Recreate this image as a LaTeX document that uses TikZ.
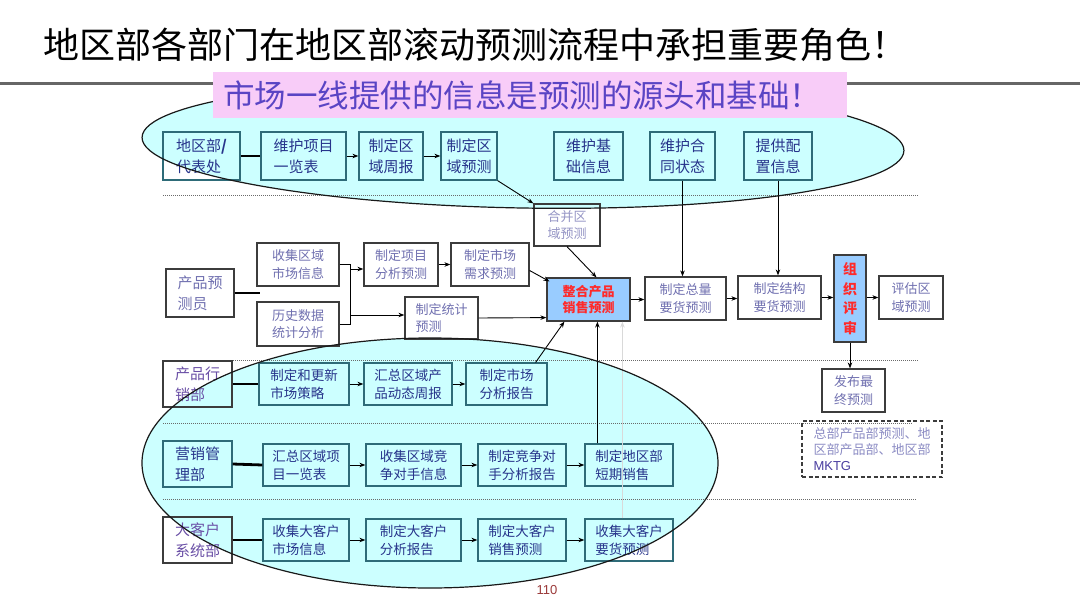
\documentclass[tikz,border=0pt]{standalone}
\usepackage{fontspec}
\setmainfont{Noto Sans CJK SC}
\newfontfamily\arialfont{Liberation Sans}
\usetikzlibrary{arrows.meta,calc}
\definecolor{cyanfill}{HTML}{CCFFFF}
\definecolor{bordin}{HTML}{2E6B78}
\definecolor{txtin}{HTML}{27348B}
\definecolor{txtout}{HTML}{7070B0}
\definecolor{txtpale}{HTML}{9595C5}
\definecolor{deptxt}{HTML}{6A4FA6}
\definecolor{bordout}{HTML}{3C3C3C}
\definecolor{bluefill}{HTML}{99CCFF}
\definecolor{redtxt}{HTML}{FF2A2A}
\definecolor{pinkfill}{HTML}{F8CCF8}
\definecolor{pinktxt}{HTML}{5A44C4}
\definecolor{linegray}{HTML}{666666}
\definecolor{dotgray}{HTML}{6A6A6A}
\definecolor{pagenum}{HTML}{9B3A3A}
\definecolor{notetxt}{HTML}{8C8CC4}
\definecolor{notemk}{HTML}{4B3FA0}
\newcommand\bx[6]{\node[#1,minimum width=#4pt,minimum height=#5pt] (#2) at (#3) {#6};}
\begin{document}
\begin{tikzpicture}[x=1pt,y=-1pt,
  box/.style={draw, line width=1.2pt, align=left, inner sep=0pt},
  fa/.style={font=\fontsize{13pt}{17.5pt}\selectfont},
  fb/.style={font=\fontsize{13.5pt}{18pt}\selectfont},
  fc/.style={font=\fontsize{15pt}{21pt}\selectfont},
  inbox/.style={box, draw=bordin, text=txtin},
  outbox/.style={box, draw=bordout, text=txtout},
  palebox/.style={box, draw=bordout, text=txtpale},
  deptbox/.style={box, draw=bordout, text=deptxt},
  keybox/.style={box, draw=bordout, fill=bluefill, text=redtxt, align=center, font=\bfseries\fontsize{13pt}{16.5pt}\selectfont},
  arr/.style={-{Stealth[length=6pt,width=4.5pt]}, line width=0.9pt, black},
  thickline/.style={line width=2.8pt, black},
  dotline/.style={dotgray, line width=1pt, dash pattern=on 1pt off 1pt},
  ellline/.style={line width=1.2pt, black!90}]
\useasboundingbox (0,0) rectangle (1080,608);
\fill[white] (0,0) rectangle (1080,608);
% title and rule
\node[anchor=west, inner sep=0pt, font=\fontsize{36pt}{41pt}\selectfont] (title) at (43,45) {地区部各部门在地区部滚动预测流程中承担重要角色！};
\draw[linegray, line width=3pt] (0,83) -- (1080,83);
% ellipse fills
\fill[cyanfill, rotate around={-1:(523,144)}] (523,144) ellipse [x radius=381, y radius=64];
\fill[cyanfill] (430,463) ellipse [x radius=288, y radius=125];
% separators
\draw[dotline] (163,195) -- (918,195);
\draw[dotline] (163,360) -- (918,360);
\draw[dotline] (163,423) -- (913,423);
\draw[dotline] (163,499) -- (917,499);
% row 1
\bx{inbox,fc}{dq1}{201.5,156}{77}{48}{地区部\textbf{/}\\代表处}
\bx{inbox,fc}{a1}{303.5,156}{85}{48}{维护项目\\一览表}
\bx{inbox,fc}{a2}{391,156}{64}{48}{制定区\\域周报}
\bx{inbox,fc}{a3}{469,156}{56}{48}{制定区\\域预测}
\bx{inbox,fc}{a4}{588.5,156}{69}{48}{维护基\\础信息}
\bx{inbox,fc}{a5}{682.5,156}{65}{48}{维护合\\同状态}
\bx{inbox,fc}{a6}{778,156}{68}{48}{提供配\\置信息}
\bx{palebox,fa}{m}{567,225}{66}{42}{合并区\\域预测}
% row 2
\bx{outbox,fc}{p0}{200,293}{68}{48}{产品预\\测员}
\bx{outbox,fa}{b1}{298,264.5}{82}{43}{收集区域\\市场信息}
\bx{outbox,fa}{b2}{298,324}{82}{44}{历史数据\\统计分析}
\bx{outbox,fa}{b3}{401,264.5}{74}{43}{制定项目\\分析预测}
\bx{outbox,fa}{b4}{490,264.5}{78}{43}{制定市场\\需求预测}
\bx{outbox,fa}{b5}{441.5,318}{73}{42}{制定统计\\预测}
\bx{keybox}{I}{588.5,299.5}{83}{43}{整合产品\\销售预测}
\bx{outbox,fa}{c1}{685.5,298.5}{81}{43}{制定总量\\要货预测}
\bx{outbox,fa}{c2}{779.5,297.5}{83}{43}{制定结构\\要货预测}
\node[keybox, font=\bfseries\fontsize{14pt}{19.5pt}\selectfont, minimum width=32pt, minimum height=87pt] (R) at (850,298.5) {组\\织\\评\\审};
\bx{outbox,fa}{c3}{911,297.5}{64}{43}{评估区\\域预测}
\bx{outbox,fa}{c4}{853.5,390.5}{63}{43}{发布最\\终预测}
\node[draw=bordout, line width=1.2pt, dash pattern=on 4pt off 2.5pt, align=left, inner sep=0pt, minimum width=140pt, minimum height=56pt, text=notetxt, font=\fontsize{13pt}{16pt}\selectfont] (note) at (872,449) {总部产品部预测、地\\区部产品部、地区部\\\textcolor{notemk}{\arialfont MKTG}};
% row 3
\bx{deptbox,fc}{d0}{197.5,384}{69}{46}{产品行\\销部}
\bx{inbox,fb}{d1}{304,384}{90}{42}{制定和更新\\市场策略}
\bx{inbox,fb}{d2}{408,384}{88}{42}{汇总区域产\\品动态周报}
\bx{inbox,fb}{d3}{506.5,384}{81}{42}{制定市场\\分析报告}
% row 4
\bx{inbox,fc}{e0}{197.5,464}{69}{46}{营销管\\理部}
\bx{inbox,fb}{e1}{306,465}{86}{42}{汇总区域项\\目一览表}
\bx{inbox,fb}{e2}{413.5,465}{95}{42}{收集区域竞\\争对手信息}
\bx{inbox,fb}{e3}{522,465}{88}{42}{制定竞争对\\手分析报告}
\bx{inbox,fb}{e4}{629,465}{88}{42}{制定地区部\\短期销售}
% row 5
\bx{deptbox,fc}{f0}{197.5,540}{69}{46}{大客户\\系统部}
\bx{inbox,fb}{f1}{306,540}{86}{42}{收集大客户\\市场信息}
\bx{inbox,fb}{f2}{413.5,540}{95}{42}{制定大客户\\分析报告}
\bx{inbox,fb}{f3}{522,540}{88}{42}{制定大客户\\销售预测}
\bx{inbox,fb}{f4}{629,540}{88}{42}{收集大客户\\要货预测}
% connectors row 1
\draw[thickline] (dq1.east) -- (a1.west);
\draw[arr] (a1.east) -- (a2.west);
\draw[arr] (a2.east) -- (a3.west);
\draw[arr] (a3.south east) -- (m.north west);
\draw[arr] (m.south) -- ($(I.north)+(8,0)$);
\draw[arr] (a5.south) -- (a5.south |- c1.north);
\draw[arr] (a6.south) -- (a6.south |- c2.north);
% connectors row 2
\coordinate (pj) at (260,293);
\draw[thickline] (p0.east) -- (pj);
\coordinate (bk1) at (350,264.5);
\coordinate (bk2) at (350,324);
\draw[line width=1pt] (b1.east) -- (bk1) -- (bk2) -- (b2.east);
\coordinate (bo1) at (350,269);
\coordinate (bo2) at (350,315);
\draw[arr] (bo1) -- (bo1 -| b3.west);
\draw[arr] (bo2) -- (bo2 -| b5.west);
\draw[arr] (b3.east) -- (b4.west);
\draw[arr] ($(b4.east)+(0,6)$) -- ($(I.north west)+(3,4)$);
\draw[arr] (b5.east) -- ($(I.south west)+(0,-4)$);
\draw[arr] (I.east) -- (I.east -| c1.west);
\draw[arr] (c1.east) -- (c1.east -| c2.west);
\draw[arr] (c2.east) -- (c2.east -| R.west);
\draw[arr] (c3.west -| R.east) -- (c3.west);
\draw[arr] (R.south) -- (R.south |- c4.north);
% connectors row 3-5
\draw[thickline] (d0.east) -- (d1.west);
\draw[arr] (d1.east) -- (d2.west);
\draw[arr] (d2.east) -- (d3.west);
\draw[arr] ($(d3.north east)+(-12,0)$) -- ($(I.south west)+(18,0)$);
\draw[thickline] (e0.east) -- (e1.west);
\draw[arr] (e1.east) -- (e2.west);
\draw[arr] (e2.east) -- (e3.west);
\draw[arr] (e3.east) -- (e4.west);
\coordinate (e4t) at ($(e4.north west)+(13,0)$);
\draw[arr] (e4t) -- (e4t |- I.south);
\coordinate (f4t) at ($(f4.north west)+(38,0)$);
\draw[arr, black!15] (f4t) -- (f4t |- I.south);
\draw[thickline] (f0.east) -- (f1.west);
\draw[arr] (f1.east) -- (f2.west);
\draw[arr] (f2.east) -- (f3.west);
\draw[arr] (f3.east) -- (f4.west);
% ellipse outlines
\draw[ellline, rotate around={-1:(523,144)}] (523,144) ellipse [x radius=381, y radius=64];
\draw[ellline] (430,463) ellipse [x radius=288, y radius=125];
% slogan
\node[fill=pinkfill, minimum height=46pt, text width=614pt, inner xsep=10pt, inner ysep=0pt, align=left, text=pinktxt, font=\fontsize{31.5pt}{35pt}\selectfont] (slogan) at (530,95) {市场一线提供的信息是预测的源头和基础！};
\node[text=pagenum, inner sep=0pt, font=\arialfont\fontsize{13pt}{15pt}\selectfont] (pg) at (547,590) {110};
\end{tikzpicture}
\end{document}
